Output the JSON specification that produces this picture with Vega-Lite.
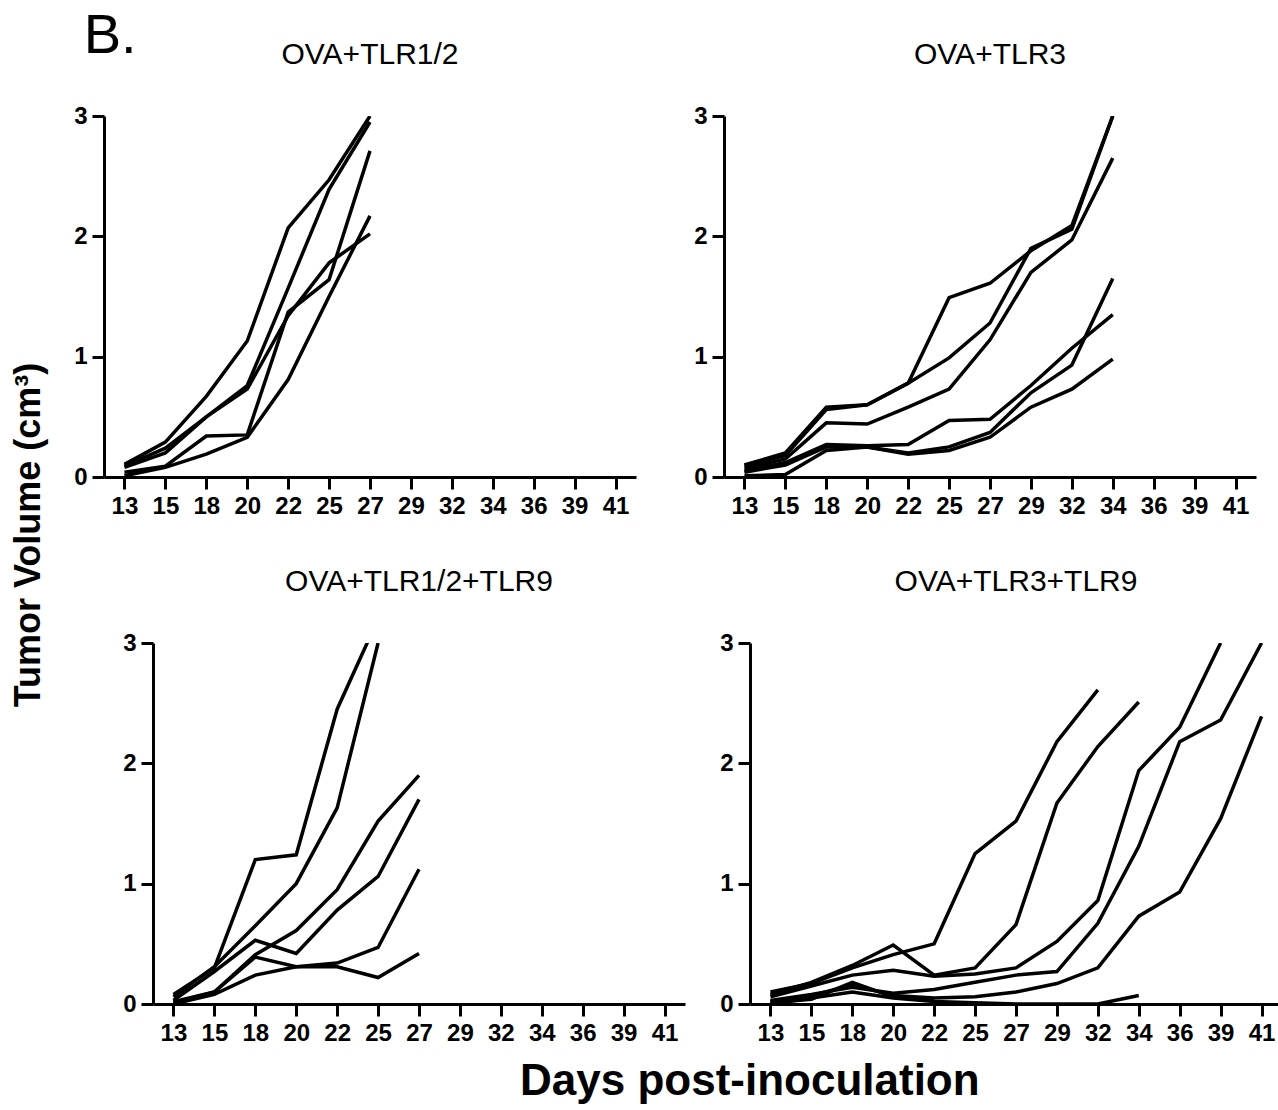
{
  "$schema": "https://vega.github.io/schema/vega-lite/v6.json",
  "padding": {"left": 10, "top": 8, "right": 0, "bottom": 0},
  "background": "white",
  "title": {"text": "Tumor Volume (cm³)", "orient": "left", "anchor": "middle", "frame": "bounds", "offset": 26, "dx": 21, "font": "Liberation Sans", "fontSize": 36, "fontWeight": "bold", "color": "black"},
  "config": {
    "view": {"stroke": null},
    "title": {"font": "Liberation Sans", "fontSize": 30, "fontWeight": "normal", "color": "black", "offset": 34},
    "axis": {"domainColor": "black", "domainWidth": 3, "tickColor": "black", "tickWidth": 3, "tickSize": 12, "labelFont": "Liberation Sans", "labelFontWeight": "bold", "labelColor": "black", "grid": false, "titleFont": "Liberation Sans", "titleFontWeight": "bold", "titleColor": "black"},
    "axisX": {"labelFontSize": 24, "labelAngle": 0, "labelPadding": 5},
    "axisY": {"labelFontSize": 24, "labelPadding": 5}
  },
  "data": {"values": [
    {"panel": "p1", "mouse": "A", "day": 13, "vol": 0.105}, {"panel": "p1", "mouse": "A", "day": 15, "vol": 0.29}, {"panel": "p1", "mouse": "A", "day": 18, "vol": 0.67}, {"panel": "p1", "mouse": "A", "day": 20, "vol": 1.13}, {"panel": "p1", "mouse": "A", "day": 22, "vol": 2.07}, {"panel": "p1", "mouse": "A", "day": 25, "vol": 2.47}, {"panel": "p1", "mouse": "A", "day": 27, "vol": 3.0},
    {"panel": "p1", "mouse": "B", "day": 13, "vol": 0.09}, {"panel": "p1", "mouse": "B", "day": 15, "vol": 0.24}, {"panel": "p1", "mouse": "B", "day": 18, "vol": 0.5}, {"panel": "p1", "mouse": "B", "day": 20, "vol": 0.76}, {"panel": "p1", "mouse": "B", "day": 22, "vol": 1.57}, {"panel": "p1", "mouse": "B", "day": 25, "vol": 2.39}, {"panel": "p1", "mouse": "B", "day": 27, "vol": 2.95},
    {"panel": "p1", "mouse": "C", "day": 13, "vol": 0.08}, {"panel": "p1", "mouse": "C", "day": 15, "vol": 0.2}, {"panel": "p1", "mouse": "C", "day": 18, "vol": 0.5}, {"panel": "p1", "mouse": "C", "day": 20, "vol": 0.73}, {"panel": "p1", "mouse": "C", "day": 22, "vol": 1.34}, {"panel": "p1", "mouse": "C", "day": 25, "vol": 1.78}, {"panel": "p1", "mouse": "C", "day": 27, "vol": 2.02},
    {"panel": "p1", "mouse": "D", "day": 13, "vol": 0.04}, {"panel": "p1", "mouse": "D", "day": 15, "vol": 0.09}, {"panel": "p1", "mouse": "D", "day": 18, "vol": 0.34}, {"panel": "p1", "mouse": "D", "day": 20, "vol": 0.35}, {"panel": "p1", "mouse": "D", "day": 22, "vol": 1.37}, {"panel": "p1", "mouse": "D", "day": 25, "vol": 1.64}, {"panel": "p1", "mouse": "D", "day": 27, "vol": 2.71},
    {"panel": "p1", "mouse": "E", "day": 13, "vol": 0.01}, {"panel": "p1", "mouse": "E", "day": 15, "vol": 0.08}, {"panel": "p1", "mouse": "E", "day": 18, "vol": 0.19}, {"panel": "p1", "mouse": "E", "day": 20, "vol": 0.33}, {"panel": "p1", "mouse": "E", "day": 22, "vol": 0.81}, {"panel": "p1", "mouse": "E", "day": 25, "vol": 1.5}, {"panel": "p1", "mouse": "E", "day": 27, "vol": 2.17},

    {"panel": "p2", "mouse": "A", "day": 13, "vol": 0.1}, {"panel": "p2", "mouse": "A", "day": 15, "vol": 0.2}, {"panel": "p2", "mouse": "A", "day": 18, "vol": 0.58}, {"panel": "p2", "mouse": "A", "day": 20, "vol": 0.6}, {"panel": "p2", "mouse": "A", "day": 22, "vol": 0.78}, {"panel": "p2", "mouse": "A", "day": 25, "vol": 1.49}, {"panel": "p2", "mouse": "A", "day": 27, "vol": 1.61}, {"panel": "p2", "mouse": "A", "day": 29, "vol": 1.88}, {"panel": "p2", "mouse": "A", "day": 32, "vol": 2.09}, {"panel": "p2", "mouse": "A", "day": 34, "vol": 3.0},
    {"panel": "p2", "mouse": "B", "day": 13, "vol": 0.09}, {"panel": "p2", "mouse": "B", "day": 15, "vol": 0.18}, {"panel": "p2", "mouse": "B", "day": 18, "vol": 0.56}, {"panel": "p2", "mouse": "B", "day": 20, "vol": 0.6}, {"panel": "p2", "mouse": "B", "day": 22, "vol": 0.78}, {"panel": "p2", "mouse": "B", "day": 25, "vol": 0.99}, {"panel": "p2", "mouse": "B", "day": 27, "vol": 1.28}, {"panel": "p2", "mouse": "B", "day": 29, "vol": 1.9}, {"panel": "p2", "mouse": "B", "day": 32, "vol": 2.06}, {"panel": "p2", "mouse": "B", "day": 34, "vol": 3.0},
    {"panel": "p2", "mouse": "C", "day": 13, "vol": 0.07}, {"panel": "p2", "mouse": "C", "day": 15, "vol": 0.15}, {"panel": "p2", "mouse": "C", "day": 18, "vol": 0.45}, {"panel": "p2", "mouse": "C", "day": 20, "vol": 0.44}, {"panel": "p2", "mouse": "C", "day": 22, "vol": 0.58}, {"panel": "p2", "mouse": "C", "day": 25, "vol": 0.73}, {"panel": "p2", "mouse": "C", "day": 27, "vol": 1.14}, {"panel": "p2", "mouse": "C", "day": 29, "vol": 1.7}, {"panel": "p2", "mouse": "C", "day": 32, "vol": 1.97}, {"panel": "p2", "mouse": "C", "day": 34, "vol": 2.65},
    {"panel": "p2", "mouse": "D", "day": 13, "vol": 0.05}, {"panel": "p2", "mouse": "D", "day": 15, "vol": 0.12}, {"panel": "p2", "mouse": "D", "day": 18, "vol": 0.27}, {"panel": "p2", "mouse": "D", "day": 20, "vol": 0.26}, {"panel": "p2", "mouse": "D", "day": 22, "vol": 0.27}, {"panel": "p2", "mouse": "D", "day": 25, "vol": 0.47}, {"panel": "p2", "mouse": "D", "day": 27, "vol": 0.48}, {"panel": "p2", "mouse": "D", "day": 29, "vol": 0.76}, {"panel": "p2", "mouse": "D", "day": 32, "vol": 1.07}, {"panel": "p2", "mouse": "D", "day": 34, "vol": 1.35},
    {"panel": "p2", "mouse": "E", "day": 13, "vol": 0.04}, {"panel": "p2", "mouse": "E", "day": 15, "vol": 0.1}, {"panel": "p2", "mouse": "E", "day": 18, "vol": 0.25}, {"panel": "p2", "mouse": "E", "day": 20, "vol": 0.25}, {"panel": "p2", "mouse": "E", "day": 22, "vol": 0.2}, {"panel": "p2", "mouse": "E", "day": 25, "vol": 0.25}, {"panel": "p2", "mouse": "E", "day": 27, "vol": 0.37}, {"panel": "p2", "mouse": "E", "day": 29, "vol": 0.7}, {"panel": "p2", "mouse": "E", "day": 32, "vol": 0.93}, {"panel": "p2", "mouse": "E", "day": 34, "vol": 1.65},
    {"panel": "p2", "mouse": "F", "day": 13, "vol": 0.01}, {"panel": "p2", "mouse": "F", "day": 15, "vol": 0.02}, {"panel": "p2", "mouse": "F", "day": 18, "vol": 0.22}, {"panel": "p2", "mouse": "F", "day": 20, "vol": 0.25}, {"panel": "p2", "mouse": "F", "day": 22, "vol": 0.19}, {"panel": "p2", "mouse": "F", "day": 25, "vol": 0.22}, {"panel": "p2", "mouse": "F", "day": 27, "vol": 0.33}, {"panel": "p2", "mouse": "F", "day": 29, "vol": 0.58}, {"panel": "p2", "mouse": "F", "day": 32, "vol": 0.73}, {"panel": "p2", "mouse": "F", "day": 34, "vol": 0.98},

    {"panel": "p3", "mouse": "A", "day": 13, "vol": 0.08}, {"panel": "p3", "mouse": "A", "day": 15, "vol": 0.3}, {"panel": "p3", "mouse": "A", "day": 18, "vol": 1.2}, {"panel": "p3", "mouse": "A", "day": 20, "vol": 1.24}, {"panel": "p3", "mouse": "A", "day": 22, "vol": 2.45}, {"panel": "p3", "mouse": "A", "day": 25, "vol": 3.2},
    {"panel": "p3", "mouse": "B", "day": 13, "vol": 0.06}, {"panel": "p3", "mouse": "B", "day": 15, "vol": 0.31}, {"panel": "p3", "mouse": "B", "day": 18, "vol": 0.65}, {"panel": "p3", "mouse": "B", "day": 20, "vol": 1.0}, {"panel": "p3", "mouse": "B", "day": 22, "vol": 1.63}, {"panel": "p3", "mouse": "B", "day": 25, "vol": 3.0},
    {"panel": "p3", "mouse": "C", "day": 13, "vol": 0.02}, {"panel": "p3", "mouse": "C", "day": 15, "vol": 0.1}, {"panel": "p3", "mouse": "C", "day": 18, "vol": 0.41}, {"panel": "p3", "mouse": "C", "day": 20, "vol": 0.61}, {"panel": "p3", "mouse": "C", "day": 22, "vol": 0.95}, {"panel": "p3", "mouse": "C", "day": 25, "vol": 1.52}, {"panel": "p3", "mouse": "C", "day": 27, "vol": 1.9},
    {"panel": "p3", "mouse": "D", "day": 13, "vol": 0.03}, {"panel": "p3", "mouse": "D", "day": 15, "vol": 0.27}, {"panel": "p3", "mouse": "D", "day": 18, "vol": 0.53}, {"panel": "p3", "mouse": "D", "day": 20, "vol": 0.42}, {"panel": "p3", "mouse": "D", "day": 22, "vol": 0.78}, {"panel": "p3", "mouse": "D", "day": 25, "vol": 1.06}, {"panel": "p3", "mouse": "D", "day": 27, "vol": 1.7},
    {"panel": "p3", "mouse": "E", "day": 13, "vol": 0.0}, {"panel": "p3", "mouse": "E", "day": 15, "vol": 0.08}, {"panel": "p3", "mouse": "E", "day": 18, "vol": 0.24}, {"panel": "p3", "mouse": "E", "day": 20, "vol": 0.31}, {"panel": "p3", "mouse": "E", "day": 22, "vol": 0.34}, {"panel": "p3", "mouse": "E", "day": 25, "vol": 0.47}, {"panel": "p3", "mouse": "E", "day": 27, "vol": 1.12},
    {"panel": "p3", "mouse": "F", "day": 13, "vol": 0.01}, {"panel": "p3", "mouse": "F", "day": 15, "vol": 0.1}, {"panel": "p3", "mouse": "F", "day": 18, "vol": 0.39}, {"panel": "p3", "mouse": "F", "day": 20, "vol": 0.31}, {"panel": "p3", "mouse": "F", "day": 22, "vol": 0.31}, {"panel": "p3", "mouse": "F", "day": 25, "vol": 0.22}, {"panel": "p3", "mouse": "F", "day": 27, "vol": 0.42},

    {"panel": "p4", "mouse": "A", "day": 13, "vol": 0.1}, {"panel": "p4", "mouse": "A", "day": 15, "vol": 0.17}, {"panel": "p4", "mouse": "A", "day": 18, "vol": 0.3}, {"panel": "p4", "mouse": "A", "day": 20, "vol": 0.41}, {"panel": "p4", "mouse": "A", "day": 22, "vol": 0.5}, {"panel": "p4", "mouse": "A", "day": 25, "vol": 1.25}, {"panel": "p4", "mouse": "A", "day": 27, "vol": 1.52}, {"panel": "p4", "mouse": "A", "day": 29, "vol": 2.18}, {"panel": "p4", "mouse": "A", "day": 32, "vol": 2.61},
    {"panel": "p4", "mouse": "B", "day": 13, "vol": 0.08}, {"panel": "p4", "mouse": "B", "day": 15, "vol": 0.18}, {"panel": "p4", "mouse": "B", "day": 18, "vol": 0.32}, {"panel": "p4", "mouse": "B", "day": 20, "vol": 0.49}, {"panel": "p4", "mouse": "B", "day": 22, "vol": 0.24}, {"panel": "p4", "mouse": "B", "day": 25, "vol": 0.3}, {"panel": "p4", "mouse": "B", "day": 27, "vol": 0.66}, {"panel": "p4", "mouse": "B", "day": 29, "vol": 1.67}, {"panel": "p4", "mouse": "B", "day": 32, "vol": 2.14}, {"panel": "p4", "mouse": "B", "day": 34, "vol": 2.51},
    {"panel": "p4", "mouse": "C", "day": 13, "vol": 0.06}, {"panel": "p4", "mouse": "C", "day": 15, "vol": 0.15}, {"panel": "p4", "mouse": "C", "day": 18, "vol": 0.24}, {"panel": "p4", "mouse": "C", "day": 20, "vol": 0.28}, {"panel": "p4", "mouse": "C", "day": 22, "vol": 0.23}, {"panel": "p4", "mouse": "C", "day": 25, "vol": 0.25}, {"panel": "p4", "mouse": "C", "day": 27, "vol": 0.3}, {"panel": "p4", "mouse": "C", "day": 29, "vol": 0.52}, {"panel": "p4", "mouse": "C", "day": 32, "vol": 0.86}, {"panel": "p4", "mouse": "C", "day": 34, "vol": 1.94}, {"panel": "p4", "mouse": "C", "day": 36, "vol": 2.3}, {"panel": "p4", "mouse": "C", "day": 39, "vol": 3.0},
    {"panel": "p4", "mouse": "D", "day": 13, "vol": 0.03}, {"panel": "p4", "mouse": "D", "day": 15, "vol": 0.08}, {"panel": "p4", "mouse": "D", "day": 18, "vol": 0.14}, {"panel": "p4", "mouse": "D", "day": 20, "vol": 0.09}, {"panel": "p4", "mouse": "D", "day": 22, "vol": 0.12}, {"panel": "p4", "mouse": "D", "day": 25, "vol": 0.18}, {"panel": "p4", "mouse": "D", "day": 27, "vol": 0.24}, {"panel": "p4", "mouse": "D", "day": 29, "vol": 0.27}, {"panel": "p4", "mouse": "D", "day": 32, "vol": 0.67}, {"panel": "p4", "mouse": "D", "day": 34, "vol": 1.31}, {"panel": "p4", "mouse": "D", "day": 36, "vol": 2.18}, {"panel": "p4", "mouse": "D", "day": 39, "vol": 2.36}, {"panel": "p4", "mouse": "D", "day": 41, "vol": 3.0},
    {"panel": "p4", "mouse": "E", "day": 13, "vol": 0.02}, {"panel": "p4", "mouse": "E", "day": 15, "vol": 0.07}, {"panel": "p4", "mouse": "E", "day": 18, "vol": 0.16}, {"panel": "p4", "mouse": "E", "day": 20, "vol": 0.07}, {"panel": "p4", "mouse": "E", "day": 22, "vol": 0.05}, {"panel": "p4", "mouse": "E", "day": 25, "vol": 0.06}, {"panel": "p4", "mouse": "E", "day": 27, "vol": 0.1}, {"panel": "p4", "mouse": "E", "day": 29, "vol": 0.17}, {"panel": "p4", "mouse": "E", "day": 32, "vol": 0.3}, {"panel": "p4", "mouse": "E", "day": 34, "vol": 0.73}, {"panel": "p4", "mouse": "E", "day": 36, "vol": 0.93}, {"panel": "p4", "mouse": "E", "day": 39, "vol": 1.54}, {"panel": "p4", "mouse": "E", "day": 41, "vol": 2.39},
    {"panel": "p4", "mouse": "F", "day": 13, "vol": 0.0}, {"panel": "p4", "mouse": "F", "day": 15, "vol": 0.05}, {"panel": "p4", "mouse": "F", "day": 18, "vol": 0.1}, {"panel": "p4", "mouse": "F", "day": 20, "vol": 0.05}, {"panel": "p4", "mouse": "F", "day": 22, "vol": 0.02}, {"panel": "p4", "mouse": "F", "day": 25, "vol": 0.01}, {"panel": "p4", "mouse": "F", "day": 27, "vol": 0.0}, {"panel": "p4", "mouse": "F", "day": 29, "vol": 0.0}, {"panel": "p4", "mouse": "F", "day": 32, "vol": 0.0}, {"panel": "p4", "mouse": "F", "day": 34, "vol": 0.07},
    {"panel": "p4", "mouse": "G", "day": 13, "vol": 0.01}, {"panel": "p4", "mouse": "G", "day": 15, "vol": 0.04}, {"panel": "p4", "mouse": "G", "day": 18, "vol": 0.18}, {"panel": "p4", "mouse": "G", "day": 20, "vol": 0.06}, {"panel": "p4", "mouse": "G", "day": 22, "vol": 0.03}
  ]},
  "vconcat": [
    {
      "title": {"text": "Days post-inoculation", "orient": "bottom", "anchor": "middle", "frame": "bounds", "offset": 15, "dx": 72, "font": "Liberation Sans", "fontSize": 44, "fontWeight": "bold", "color": "black"},
      "spacing": 49,
      "vconcat": [
        {
          "title": {"text": "B.", "anchor": "start", "frame": "bounds", "offset": -25, "dx": 10, "font": "Liberation Sans", "fontSize": 56, "fontWeight": "normal", "color": "black"},
          "spacing": 57,
          "hconcat": [
            {
              "title": "OVA+TLR1/2",
              "width": 532, "height": 361,
              "transform": [{"filter": "datum.panel === 'p1'"}],
              "mark": {"type": "line", "clip": true, "color": "black", "strokeWidth": 3.5},
              "encoding": {
                "x": {"field": "day", "type": "ordinal", "scale": {"type": "point", "padding": 0.5, "domain": [13, 15, 18, 20, 22, 25, 27, 29, 32, 34, 36, 39, 41]}, "axis": {"title": null}},
                "y": {"field": "vol", "type": "quantitative", "scale": {"domain": [0, 3], "nice": false}, "axis": {"values": [0, 1, 2, 3], "title": null}},
                "detail": {"field": "mouse"}
              }
            },
            {
              "title": "OVA+TLR3",
              "width": 532, "height": 361,
              "transform": [{"filter": "datum.panel === 'p2'"}],
              "mark": {"type": "line", "clip": true, "color": "black", "strokeWidth": 3.5},
              "encoding": {
                "x": {"field": "day", "type": "ordinal", "scale": {"type": "point", "padding": 0.5, "domain": [13, 15, 18, 20, 22, 25, 27, 29, 32, 34, 36, 39, 41]}, "axis": {"title": null}},
                "y": {"field": "vol", "type": "quantitative", "scale": {"domain": [0, 3], "nice": false}, "axis": {"values": [0, 1, 2, 3], "title": null}},
                "detail": {"field": "mouse"}
              }
            }
          ]
        },
        {
          "spacing": 0,
          "hconcat": [
            {
              "width": 18, "height": 10,
              "transform": [{"filter": "false"}],
              "mark": "point"
            },
            {
              "spacing": 34,
              "hconcat": [
                {
                  "title": "OVA+TLR1/2+TLR9",
                  "width": 532, "height": 361,
                  "transform": [{"filter": "datum.panel === 'p3'"}],
                  "mark": {"type": "line", "clip": true, "color": "black", "strokeWidth": 3.5},
                  "encoding": {
                    "x": {"field": "day", "type": "ordinal", "scale": {"type": "point", "padding": 0.5, "domain": [13, 15, 18, 20, 22, 25, 27, 29, 32, 34, 36, 39, 41]}, "axis": {"title": null}},
                    "y": {"field": "vol", "type": "quantitative", "scale": {"domain": [0, 3], "nice": false}, "axis": {"values": [0, 1, 2, 3], "title": null}},
                    "detail": {"field": "mouse"}
                  }
                },
                {
                  "title": "OVA+TLR3+TLR9",
                  "width": 532, "height": 361,
                  "transform": [{"filter": "datum.panel === 'p4'"}],
                  "mark": {"type": "line", "clip": true, "color": "black", "strokeWidth": 3.5},
                  "encoding": {
                    "x": {"field": "day", "type": "ordinal", "scale": {"type": "point", "padding": 0.5, "domain": [13, 15, 18, 20, 22, 25, 27, 29, 32, 34, 36, 39, 41]}, "axis": {"title": null}},
                    "y": {"field": "vol", "type": "quantitative", "scale": {"domain": [0, 3], "nice": false}, "axis": {"values": [0, 1, 2, 3], "title": null}},
                    "detail": {"field": "mouse"}
                  }
                }
              ]
            }
          ]
        }
      ]
    }
  ]
}
